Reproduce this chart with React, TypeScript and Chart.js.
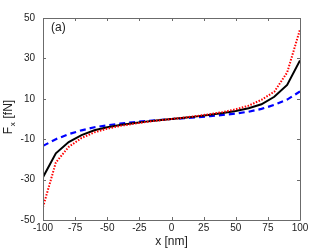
import React, { useEffect, useRef } from "react";
import { Chart, registerables } from "chart.js";

Chart.register(...registerables);

const xValues = [-100, -90, -80, -70, -60, -50, -40, -30, -20, -10, 0, 10, 20, 30, 40, 50, 60, 70, 80, 90, 100];
const blackSeries = [-28.8, -17.0, -11.4, -8.0, -5.6, -4.1, -3.0, -2.1, -1.3, -0.6, 0, 0.6, 1.3, 2.1, 3.0, 4.0, 5.3, 7.3, 11.0, 16.9, 29.0];
const redSeries = [-43.6, -21.5, -13.8, -9.4, -6.6, -4.8, -3.4, -2.4, -1.5, -0.7, 0, 0.7, 1.5, 2.4, 3.4, 4.8, 6.6, 9.5, 13.5, 23.0, 44.3];
const blueSeries = [-13.3, -10.0, -7.5, -5.6, -4.1, -3.1, -2.3, -1.6, -1.0, -0.5, 0, 0.4, 0.9, 1.4, 2.0, 2.7, 3.6, 5.0, 7.0, 9.6, 13.6];
const xTicks = [-100, -75, -50, -25, 0, 25, 50, 75, 100];
const yTicks = [-50, -30, -10, 10, 30, 50];
const panelLabel = "(a)";
const xTitle = "x [nm]";

const AXIS_COLOR = "#6b6b6b";
const FONT = "'Liberation Sans', Arial, sans-serif";

const framePlugin = {
  id: "frame",
  afterDraw(chart: any) {
    const { ctx, chartArea } = chart;
    const { left, right, top, bottom } = chartArea;
    const xs = chart.scales.x;
    const ys = chart.scales.y;
    ctx.save();
    ctx.strokeStyle = AXIS_COLOR;
    ctx.lineWidth = 1;
    ctx.beginPath();
    ctx.rect(Math.round(left) + 0.5, Math.round(top) + 0.5, Math.round(right - left), Math.round(bottom - top));
    ctx.stroke();
    const tl = 3;
    ctx.beginPath();
    xTicks.forEach((v) => {
      const px = Math.round(xs.getPixelForValue(v)) + 0.5;
      ctx.moveTo(px, bottom);
      ctx.lineTo(px, bottom - tl);
      ctx.moveTo(px, top);
      ctx.lineTo(px, top + tl);
    });
    yTicks.forEach((v) => {
      const py = Math.round(ys.getPixelForValue(v)) + 0.5;
      ctx.moveTo(left, py);
      ctx.lineTo(left + tl, py);
      ctx.moveTo(right, py);
      ctx.lineTo(right - tl, py);
    });
    ctx.stroke();

    // panel label
    ctx.fillStyle = "#222";
    ctx.font = `12px ${FONT}`;
    ctx.textAlign = "left";
    ctx.textBaseline = "middle";
    ctx.fillText(panelLabel, left + 8, top + 10);

    // y title with subscript
    ctx.translate(9, (top + bottom) / 2 - 2);
    ctx.rotate(-Math.PI / 2);
    const bigFont = `12px ${FONT}`;
    const smallFont = `8px ${FONT}`;
    ctx.font = bigFont;
    const wF = ctx.measureText("F").width;
    const wRest = ctx.measureText(" [fN]").width;
    ctx.font = smallFont;
    const wx = ctx.measureText("x").width;
    const total = wF + wx + 1 + wRest;
    let cx = -total / 2;
    ctx.textAlign = "left";
    ctx.font = bigFont;
    ctx.fillText("F", cx, 0);
    cx += wF + 0.5;
    ctx.font = smallFont;
    ctx.fillText("x", cx, 4);
    cx += wx + 0.5;
    ctx.font = bigFont;
    ctx.fillText(" [fN]", cx, 0);
    ctx.restore();
  },
};

export default function App() {
  const ref = useRef<HTMLCanvasElement | null>(null);
  useEffect(() => {
    if (!ref.current) return;
    const chart = new Chart(ref.current, {
      type: "line",
      data: {
        labels: xValues,
        datasets: [
          {
            data: xValues.map((x, i) => ({ x, y: redSeries[i] })),
            borderColor: "#ff0000",
            borderWidth: 2,
            borderDash: [1.5, 1.5],
            pointRadius: 0,
            tension: 0,
          },
          {
            data: xValues.map((x, i) => ({ x, y: blackSeries[i] })),
            borderColor: "#000000",
            borderWidth: 2,
            pointRadius: 0,
            tension: 0,
          },
          {
            data: xValues.map((x, i) => ({ x, y: blueSeries[i] })),
            borderColor: "#0000ff",
            borderWidth: 2.2,
            borderDash: [6, 4],
            pointRadius: 0,
            tension: 0,
          },
        ],
      },
      options: {
        animation: false,
        responsive: false,
        events: [],
        layout: { padding: { left: 0, top: 18, right: 32, bottom: 0 } },
        plugins: { legend: { display: false }, tooltip: { enabled: false } },
        scales: {
          x: {
            type: "linear",
            min: -100,
            max: 100,
            afterBuildTicks: (s: any) => {
              s.ticks = xTicks.map((v) => ({ value: v }));
            },
            afterFit: (s: any) => {
              s.height = 29;
            },
            grid: { display: false, drawTicks: false },
            border: { display: false },
            ticks: {
              padding: 2,
              color: "#222",
              font: { size: 10, family: FONT },
              maxRotation: 0,
              autoSkip: false,
            },
            title: {
              display: true,
              text: xTitle,
              color: "#222",
              font: { size: 12, family: FONT },
              padding: { top: 0, bottom: 0 },
            },
          },
          y: {
            type: "linear",
            min: -50,
            max: 50,
            afterBuildTicks: (s: any) => {
              s.ticks = yTicks.map((v) => ({ value: v }));
            },
            afterFit: (s: any) => {
              s.width = 43;
            },
            grid: { display: false, drawTicks: false },
            border: { display: false },
            ticks: {
              padding: 8,
              color: "#222",
              font: { size: 10, family: FONT },
              autoSkip: false,
            },
          },
        },
      },
      plugins: [framePlugin],
    } as any);
    return () => chart.destroy();
  }, []);
  return (
    <div style={{ position: "fixed", left: 0, top: 0, width: 332, height: 249, background: "#fff" }}>
      <canvas ref={ref} width={332} height={249} style={{ width: 332, height: 249, display: "block" }} />
    </div>
  );
}
